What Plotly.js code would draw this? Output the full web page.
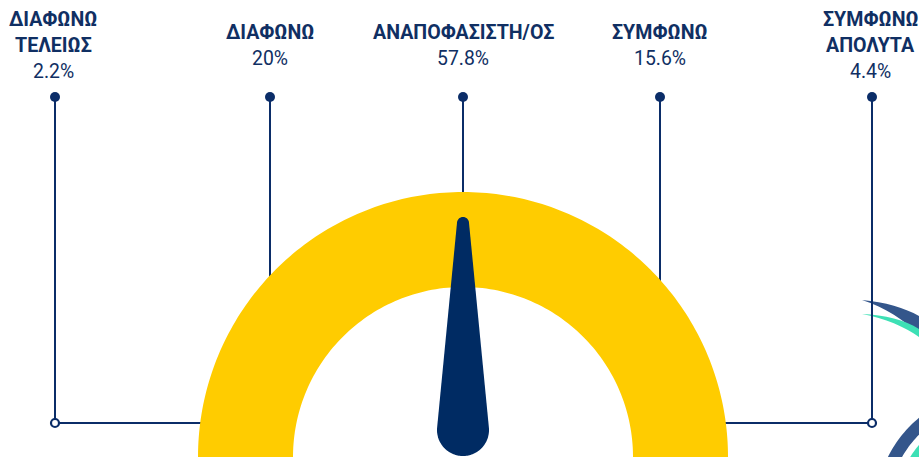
<!DOCTYPE html>
<html><head><meta charset="utf-8">
<script src="https://cdn.plot.ly/plotly-3.0.1.min.js"></script>
<style>html,body{margin:0;padding:0;background:#fff;overflow:hidden}#chart{width:919px;height:457px;}</style>
</head><body><div id="chart"></div>
<script>
// ---- data ----
const categories = [["ΔΙΑΦΩΝΩ","ΤΕΛΕΙΩΣ"],["ΔΙΑΦΩΝΩ"],["ΑΝΑΠΟΦΑΣΙΣΤΗ/ΟΣ"],["ΣΥΜΦΩΝΩ"],["ΣΥΜΦΩΝΩ","ΑΠΟΛΥΤΑ"]];
const values = [2.2, 20, 57.8, 15.6, 4.4];
const valueLabels = values.map(v => v + "%");

// ---- layout constants (pixel space) ----
const W = 919, H = 457;
const lineX = [55, 270, 463, 660, 872];
const textX = [53, 270, 463, 660, 870.5];
const dotY = 97;
const elbowY = 423;
const navy = "#0b2d68", textCol = "#102f63", yellow = "#FFCC00", needleCol = "#002B63";
const gc = {x:463, y:457, R:265, r:170};
const pivot = {x:463, y:430, R:26, r:6, len:207};

function arc(cx, cy, r, a0, a1, n) {
  const pts = [];
  for (let i = 0; i <= n; i++) {
    const a = (a0 + (a1 - a0) * i / n) * Math.PI / 180;
    pts.push([cx + r * Math.cos(a), cy - r * Math.sin(a)]);
  }
  return pts;
}
function toPath(pts) {
  return "M" + pts.map(p => p[0].toFixed(2) + "," + p[1].toFixed(2)).join(" L") + " Z";
}

const shapes = [];
// decorative logo (bottom right)
shapes.push({type:"path", layer:"below", line:{width:0}, fillcolor:"#34568b",
  path:"M862,300 C885,302 905,308 919,316 L919,334 C905,321 885,307 862,300 Z"});
shapes.push({type:"path", layer:"below", line:{width:0}, fillcolor:"#3de0b5",
  path:"M862,314 C885,315 905,320 919,329 L919,337 C905,327 885,318 862,314 Z"});
shapes.push({type:"path", layer:"below", line:{width:0}, fillcolor:"#34568b",
  path: toPath(arc(995,510,119.5,90,270,120).concat(arc(995,510,107,270,90,120)))});
shapes.push({type:"path", layer:"below", line:{width:0}, fillcolor:"#3de0b5",
  path: toPath(arc(995,510,100,90,270,120).concat(arc(995,510,91,270,90,120)))});

// leader lines
const edgeDx = Math.sqrt(gc.R*gc.R - (gc.y-elbowY)*(gc.y-elbowY)) - 1;
categories.forEach((c, i) => {
  const x = lineX[i];
  if (i === 0 || i === categories.length - 1) {
    const xe = i === 0 ? gc.x - edgeDx : gc.x + edgeDx;
    shapes.push({type:"path", layer:"below", line:{color:navy, width:2},
      path:`M${x},${dotY} L${x},${elbowY} L${xe.toFixed(2)},${elbowY}`});
  } else {
    shapes.push({type:"line", layer:"below", line:{color:navy, width:2},
      x0:x, x1:x, y0:dotY, y1:330});
  }
});

// gauge band
const outer = arc(gc.x, gc.y, gc.R, 182, -2, 180);
const inner = arc(gc.x, gc.y, gc.r, -2, 182, 140);
shapes.push({type:"path", layer:"below", line:{width:0}, fillcolor:yellow, path: toPath(outer.concat(inner))});

// needle: points to the category with the largest share
const maxIdx = values.indexOf(Math.max(...values));
const theta = 180 - 180 * (maxIdx + 0.5) / values.length; // degrees
const th = theta * Math.PI / 180;
const tip = {x: pivot.x + pivot.len * Math.cos(th), y: pivot.y - pivot.len * Math.sin(th)};
const alpha = Math.asin((pivot.R - pivot.r) / pivot.len) * 180 / Math.PI;
const left = theta + 90 - alpha, right = theta - 90 + alpha;
const needlePts = []
  .concat(arc(tip.x, tip.y, pivot.r, left, right, 30))
  .concat(arc(pivot.x, pivot.y, pivot.R, right, left - 360, 80));
shapes.push({type:"path", layer:"below", line:{width:0}, fillcolor:needleCol, path: toPath(needlePts)});

// annotations
const annotations = [];
const lineStep = 26;
const fontFam = "Roboto, 'Noto Sans', sans-serif";
categories.forEach((c, i) => {
  const nLines = c.length + 1;
  const firstY = nLines === 3 ? 19.5 : 32;
  c.forEach((t, k) => annotations.push({x:textX[i], y:firstY + k*lineStep, xref:"x", yref:"y",
    text:"<b>"+t+"</b>", showarrow:false, xanchor:"center", yanchor:"middle",
    font:{family:fontFam, size:19.6, color:textCol}}));
  annotations.push({x:textX[i], y:firstY + c.length*lineStep, xref:"x", yref:"y",
    text:valueLabels[i], showarrow:false, xanchor:"center", yanchor:"middle",
    font:{family:fontFam, size:19.4, color:textCol}});
});

const traces = [
  {type:"scatter", mode:"markers", x:lineX, y:lineX.map(() => dotY), cliponaxis:false,
   marker:{size:10, color:navy, line:{width:0}}, hoverinfo:"skip"},
  {type:"scatter", mode:"markers", x:[lineX[0], lineX[4]], y:[elbowY, elbowY], cliponaxis:false,
   marker:{size:8, color:"#ffffff", line:{width:2.2, color:navy}}, hoverinfo:"skip"}
];

const layout = {
  width:W, height:H, margin:{l:0,r:0,t:0,b:0},
  paper_bgcolor:"#ffffff", plot_bgcolor:"#ffffff", showlegend:false, hovermode:false,
  xaxis:{range:[0,W], visible:false, fixedrange:true},
  yaxis:{range:[H,0], visible:false, fixedrange:true},
  shapes, annotations
};
Plotly.newPlot("chart", traces, layout, {staticPlot:true, displayModeBar:false});
</script></body></html>
